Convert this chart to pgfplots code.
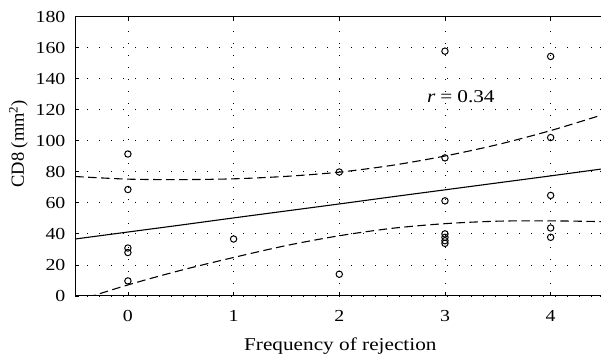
\documentclass[border=0pt]{standalone}
\usepackage{fontspec}
\setmainfont{Liberation Serif}[FakeStretch=1.18]
\newfontfamily\plainfont{Liberation Serif}
\usepackage{pgfplots}
\pgfplotsset{compat=1.18}
\usepackage{pgfplotstable}

\pgfplotstableread{
x y
0 91.5
0 68.6
0 30.9
0 28.0
0 9.7
1 36.7
2 79.9
2 14.0
3 157.8
3 89.0
3 61.3
3 40.0
3 37.8
3 35.6
3 33.9
4 154.4
4 102.1
4 64.8
4 43.8
4 37.8
}\points

\pgfplotstableread{
x fit upper lower
-0.5 36.7 77.0 -3.6
0.0 41.2 75.3 7.1
0.5 45.7 75.0 16.5
1.0 50.3 75.5 24.8
1.5 54.8 77.1 32.5
2.0 59.3 79.8 38.8
2.5 63.9 84.2 43.6
3.0 68.4 90.2 46.6
3.5 72.9 97.6 48.2
4.0 77.4 106.6 48.4
4.5 82.0 117.0 47.9
}\bands

\begin{document}
\begin{tikzpicture}
\begin{axis}[
  scale only axis,
  width=528pt, height=279pt,
  xmin=-0.5, xmax=4.5, ymin=0, ymax=180,
  xtick={0,1,2,3,4}, ytick={0,20,...,180},
  tick align=inside,
  major tick length=4pt,
  xmajorgrids, ymajorgrids,
  grid style={black, line width=0.8pt, dash pattern=on 0.8pt off 11.2pt},
  axis line style={line width=1.1pt},
  every tick/.style={black, line width=0.8pt},
  /pgf/number format/assume math mode=true,
  tick label style={font=\fontsize{16.8}{19}\selectfont},
  xticklabel style={anchor=base, yshift=-26pt},
  yticklabel style={anchor=east, inner sep=0pt, xshift=-9.5pt},
  xlabel={Frequency of rejection},
  ylabel={CD8 (mm\textsuperscript{2})},
  xlabel style={font=\fontsize{18}{21}\selectfont, at={(axis description cs:0.502,-0.194)}, anchor=base},
  ylabel style={font=\plainfont\fontsize{18.5}{21}\selectfont, at={(axis description cs:-0.107,0.545)}, anchor=center},
]
\addplot[only marks, mark=o, mark size=3.2pt, mark options={line width=1pt, black}] table[x=x, y=y] {\points};
\addplot[black, line width=1.1pt, smooth] table[x=x, y=fit] {\bands};
\addplot[black, line width=1.1pt, smooth, dash pattern=on 8.5pt off 4.5pt] table[x=x, y=upper] {\bands};
\addplot[black, line width=1.1pt, smooth, dash pattern=on 8.5pt off 4.5pt] table[x=x, y=lower] {\bands};
\node[anchor=base, font=\fontsize{18}{21}\selectfont] at (axis cs:3.15,124.4) {\textit{r}\hspace{0.28em}=\hspace{0.28em}0.34};
\end{axis}
\pgfresetboundingbox
\path ([xshift=-75pt, yshift=-60.3pt]current axis.south west) rectangle ([xshift=-2.5pt, yshift=16.7pt]current axis.north east);
\end{tikzpicture}
\end{document}
